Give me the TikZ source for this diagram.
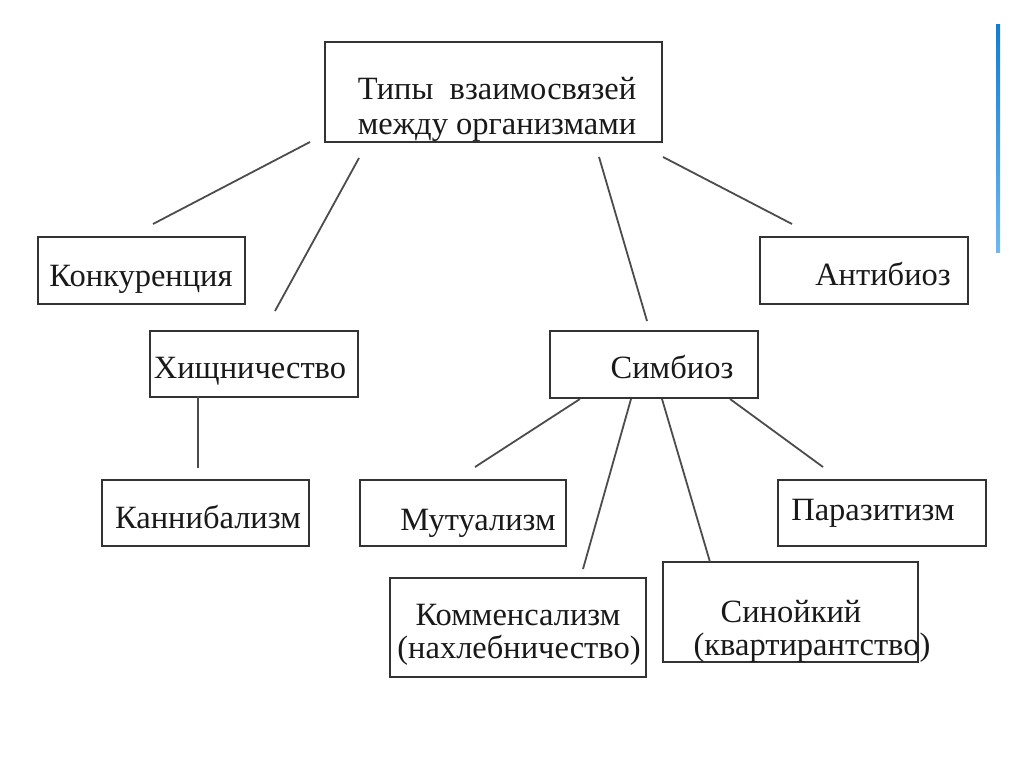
\documentclass[tikz,border=0pt]{standalone}
\usepackage{fontspec}
\setmainfont{Liberation Serif}
\begin{document}
\begin{tikzpicture}[x=1pt,y=-1pt,
  box/.style={draw=black!80,line width=2pt,inner sep=0pt,fill=none},
  lbl/.style={anchor=base,inner sep=0pt,text=black!90,font=\fontsize{32.5}{36}\selectfont},
  conn/.style={draw=black!70,line width=1.8pt}]
\useasboundingbox (0,0) rectangle (1024,767);
% boxes
\node[box,minimum width=337,minimum height=100] (top) at (493.5,92) {};
\node[box,minimum width=207,minimum height=67] (konk) at (141.5,270.5) {};
\node[box,minimum width=208,minimum height=66] (hish) at (254,363.5) {};
\node[box,minimum width=207,minimum height=66] (kann) at (205.5,512.5) {};
\node[box,minimum width=208,minimum height=67] (anti) at (864,270.5) {};
\node[box,minimum width=208,minimum height=67] (simb) at (654,364.5) {};
\node[box,minimum width=206,minimum height=66] (mutu) at (463,512.5) {};
\node[box,minimum width=208,minimum height=66] (para) at (882,512.5) {};
\node[box,minimum width=256,minimum height=99] (komm) at (518,627) {};
\node[box,minimum width=255,minimum height=100] (sino) at (790.5,612) {};
% texts
\node[lbl] (t1) at (497,100) {Типы\ \ взаимосвязей};
\node[lbl] (t2) at (497,135) {между организмами};
\node[lbl] (tk) at (141,286) {Конкуренция};
\node[lbl] (th) at (250,378) {Хищничество};
\node[lbl] (tka) at (208,528) {Каннибализм};
\node[lbl] (ta) at (883,285) {Антибиоз};
\node[lbl] (ts) at (672,378) {Симбиоз};
\node[lbl] (tm) at (478,530) {Мутуализм};
\node[lbl] (tp) at (873,520) {Паразитизм};
\node[lbl] (tko1) at (518,625) {Комменсализм};
\node[lbl] (tko2) at (519,658) {(нахлебничество)};
\node[lbl] (tsi1) at (791,622) {Синойкий};
\node[lbl] (tsi2) at (812,655) {(квартирантство)};
% connector end points
\coordinate (a1) at (310,142); \coordinate (b1) at (153,224);
\coordinate (a2) at (359,158); \coordinate (b2) at (275,311);
\coordinate (a3) at (599,157); \coordinate (b3) at (647,321);
\coordinate (a4) at (663,157); \coordinate (b4) at (792,224);
\coordinate (a5) at (198,396); \coordinate (b5) at (198,468);
\coordinate (a6) at (580,399); \coordinate (b6) at (475,467);
\coordinate (a7) at (631,399); \coordinate (b7) at (583,569);
\coordinate (a8) at (662,399); \coordinate (b8) at (710,562);
\coordinate (a9) at (730,399); \coordinate (b9) at (823,467);
\foreach \i in {1,...,9} {\draw[conn] (a\i) -- (b\i);}
% decoration stripe
\shade[top color={rgb,255:red,20;green,125;blue,210},bottom color={rgb,255:red,110;green,185;blue,240}]
  (996,25) rectangle (1000,252);
\end{tikzpicture}
\end{document}
